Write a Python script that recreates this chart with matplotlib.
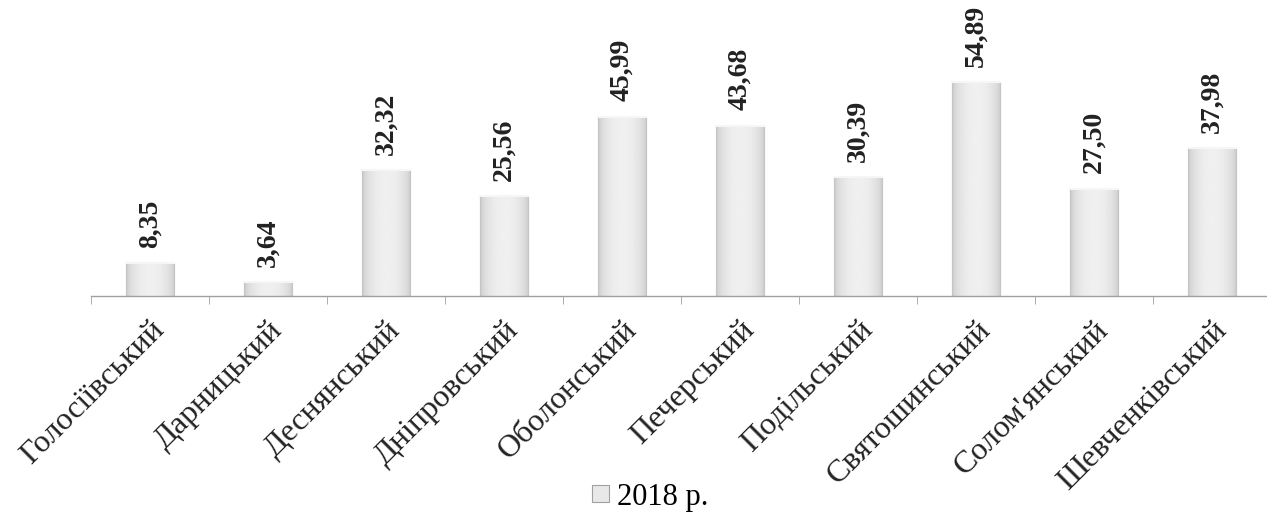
import numpy as np
import matplotlib.pyplot as plt

# data
districts = ['Голосіївський', 'Дарницький', 'Деснянський', 'Дніпровський',
             'Оболонський', 'Печерський', 'Подільський', 'Святошинський',
             "Солом'янський", 'Шевченківський']
values = [8.35, 3.64, 32.32, 25.56, 45.99, 43.68, 30.39, 54.89, 27.50, 37.98]
series_name = '2018 р.'

plt.rcParams['font.family'] = ['Liberation Serif', 'DejaVu Serif']

W, H = 1267, 514
fig = plt.figure(figsize=(W / 100, H / 100), dpi=100)
ax = fig.add_axes([91 / W, 218 / H, 1180 / W, 234 / H])

x = np.arange(len(districts))
bars = ax.bar(x, values, width=0.41, color='#e8e8e8', edgecolor='#a0a0a0',
              linewidth=0.8, zorder=2)

# cylinder-like horizontal shading on each bar
grad = np.linspace(-1, 1, 64)
shade = 0.76 + 0.18 * (1 - grad ** 2) ** 0.5
img = np.tile(shade, (2, 1))
for b in bars:
    x0, w, h = b.get_x(), b.get_width(), b.get_height()
    im = ax.imshow(img, cmap='gray', vmin=0, vmax=1, aspect='auto',
                   extent=[x0, x0 + w, 0, h], zorder=2.5, interpolation='bilinear')
    im.set_clip_path(b)
    ax.plot([x0, x0 + w], [h, h], color='#f6f6f6', lw=1.5, zorder=3)

for xi, v in zip(x, values):
    ax.annotate(f'{v:.2f}'.replace('.', ','), (xi, v), xytext=(0, 11),
                textcoords='offset points', rotation=90, ha='center', va='bottom',
                fontsize=20, fontweight='bold', color='#222222')

ax.set_xlim(-0.5, len(districts) - 0.5)
ax.set_ylim(0, 60)
for s in ['top', 'right', 'left']:
    ax.spines[s].set_visible(False)
ax.spines['bottom'].set_color('#a0a0a0')
ax.spines['bottom'].set_linewidth(1.0)
ax.set_yticks([])

ax.set_xticks(x - 0.5, minor=True)
ax.tick_params(axis='x', which='minor', length=6, color='#a0a0a0')
ax.set_xticks(x)
ax.tick_params(axis='x', which='major', length=0, pad=14)
ax.set_xticklabels(districts, rotation=45, ha='right', rotation_mode='anchor',
                   fontsize=23, color='#222222')

leg = fig.legend([bars[0]], [series_name], loc='center', bbox_to_anchor=(650 / W, 1 - 497 / H),
                 frameon=False, fontsize=22, handlelength=0.55, handleheight=0.45,
                 handletextpad=0.25)

fig.savefig('out.png', dpi=100)
